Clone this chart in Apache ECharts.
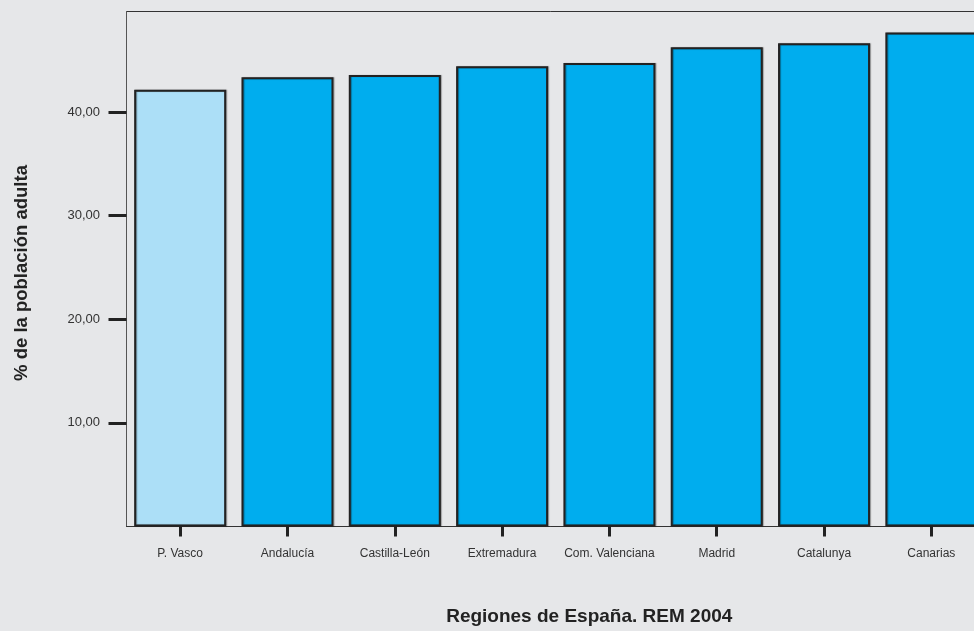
<!DOCTYPE html>
<html>
<head>
<meta charset="utf-8">
<script src="https://cdn.jsdelivr.net/npm/echarts@6/dist/echarts.min.js"></script>
<style>
html,body{margin:0;padding:0;background:#e6e7e9;}
#chart{width:974px;height:631px;}
</style>
</head>
<body>
<div id="chart"></div>
<script>
const categories = ['P. Vasco','Andalucía','Castilla-León','Extremadura','Com. Valenciana','Madrid','Catalunya','Canarias'];
const values = [42.15, 43.36, 43.58, 44.42, 44.74, 46.26, 46.64, 47.67];
const yTicks = [10, 20, 30, 40];
const yName = '% de la población adulta';
const xName = 'Regiones de España. REM 2004';

const lightBlue = '#acdff7';
const blue = '#00adee';
const chart = echarts.init(document.getElementById('chart'));
chart.setOption({
  backgroundColor: '#e6e7e9',
  animation: false,
  textStyle: {fontFamily: 'Liberation Sans, Arial, sans-serif'},
  grid: {left: 126.5, top: 11.5, width: 858.5, height: 515, outerBoundsMode: 'none', containLabel: false,
    show: true, borderColor: '#333', borderWidth: 1, backgroundColor: 'transparent'},
  xAxis: {
    type: 'category',
    data: categories,
    name: xName,
    nameLocation: 'middle',
    nameGap: 81,
    nameTextStyle: {fontSize: 19, fontWeight: 'bold', color: '#222', align: 'center', padding: [0, 0, 0, 67]},
    axisLine: {show: true, lineStyle: {color: '#333', width: 1}},
    axisTick: {show: true, alignWithLabel: true, length: 10, lineStyle: {color: '#222', width: 3}},
    axisLabel: {interval: 0, margin: 21, fontSize: 12, color: '#333'}
  },
  yAxis: {
    type: 'value',
    min: 0,
    max: 49.7,
    name: yName,
    nameLocation: 'middle',
    nameRotate: 90,
    nameGap: 95,
    nameTextStyle: {fontSize: 18.5, fontWeight: 'bold', color: '#222', padding: [0, 8, 0, 0]},
    splitLine: {show: false},
    axisLine: {show: true, lineStyle: {color: '#555', width: 1}},
    axisTick: {show: true, length: 18, customValues: yTicks, lineStyle: {color: '#222', width: 3}},
    axisLabel: {customValues: yTicks, margin: 26.5, fontSize: 13, color: '#333',
      formatter: v => v.toFixed(2).replace('.', ',')}
  },
  series: [{
    type: 'bar',
    barWidth: 92,
    data: values.map((v, i) => ({value: v, itemStyle: {color: i === 0 ? lightBlue : blue}})),
    itemStyle: {borderColor: '#222', borderWidth: 2, shadowColor: 'rgba(0,0,0,0.35)', shadowOffsetX: 1, shadowOffsetY: 0, shadowBlur: 1}
  }]
});
</script>
</body>
</html>
